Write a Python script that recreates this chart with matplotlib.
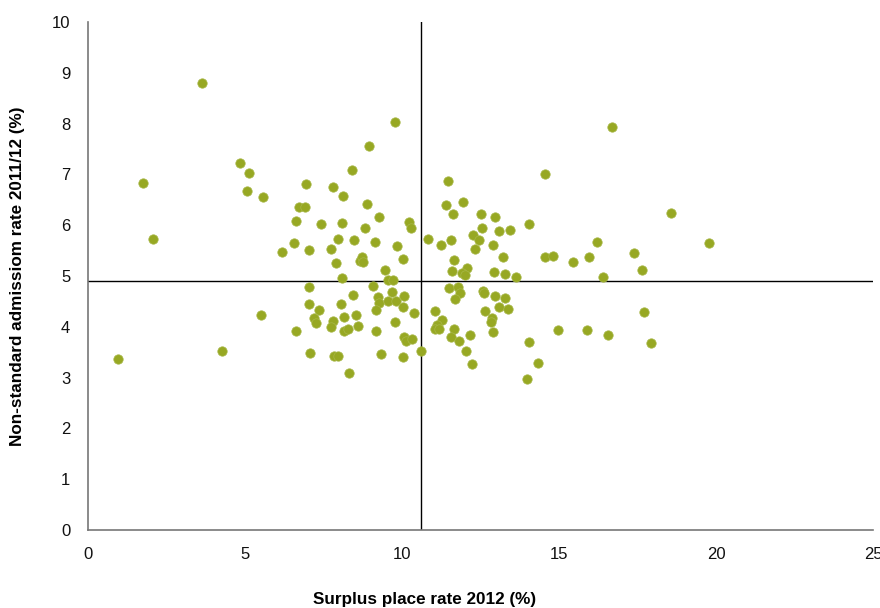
import matplotlib
matplotlib.use("Agg")
import matplotlib.pyplot as plt

# surplus place rate 2012 (%)
surplus = [
    0.96, 1.75, 2.05, 3.61, 4.25, 4.85, 5.13, 5.06, 5.57, 5.49,
    6.17, 6.55, 6.63, 6.72, 6.92, 6.94, 7.80, 8.10, 8.41, 7.40,
    8.07, 7.97, 8.48, 7.03, 7.73, 7.90, 8.65, 8.73, 8.76, 8.07,
    8.96, 9.76, 8.87, 9.26, 8.82, 9.14, 9.83, 10.22, 10.29, 10.04,
    9.45, 9.54, 9.70, 11.46, 11.41, 11.94, 11.61, 12.50, 12.96, 14.03,
    10.81, 11.25, 11.57, 12.26, 12.54, 13.08, 13.44, 12.45, 12.32, 12.88,
    13.22, 11.66, 11.58, 12.08, 11.91, 12.00, 12.92, 13.29, 13.63, 14.55,
    16.69, 18.58, 16.20, 19.78, 14.55, 14.80, 15.45, 15.95, 17.39, 17.63,
    16.41, 7.03, 8.44, 7.02, 7.35, 8.06, 7.19, 7.24, 7.80, 8.14,
    8.52, 7.74, 8.15, 8.29, 8.60, 6.62, 7.06, 7.83, 7.96, 8.31,
    9.06, 9.69, 9.24, 9.26, 9.55, 9.79, 10.05, 10.04, 9.17, 10.38,
    9.76, 9.16, 10.05, 10.11, 10.32, 10.60, 9.33, 10.04, 11.50, 11.78,
    11.83, 11.68, 12.57, 12.60, 12.97, 13.29, 13.08, 13.36, 12.63, 11.06,
    11.27, 11.10, 11.04, 11.19, 11.64, 11.56, 11.80, 12.17, 12.02, 12.21,
    12.85, 12.83, 12.90, 14.04, 13.98, 14.34, 17.72, 14.97, 15.89, 16.57,
    17.93,
]
# non-standard admission rate 2011/12 (%)
admission = [
    3.37, 6.84, 5.73, 8.80, 3.52, 7.23, 7.02, 6.67, 6.55, 4.23,
    5.47, 5.65, 6.08, 6.35, 6.36, 6.82, 6.75, 6.57, 7.08, 6.02,
    6.04, 5.72, 5.70, 5.51, 5.53, 5.25, 5.30, 5.38, 5.28, 4.96,
    7.55, 8.03, 6.42, 6.16, 5.94, 5.66, 5.59, 6.06, 5.94, 5.33,
    5.11, 4.92, 4.92, 6.88, 6.39, 6.46, 6.23, 6.23, 6.16, 6.03,
    5.73, 5.61, 5.70, 5.81, 5.94, 5.88, 5.91, 5.70, 5.53, 5.62,
    5.38, 5.32, 5.10, 5.16, 5.05, 5.02, 5.07, 5.03, 4.99, 7.01,
    7.94, 6.25, 5.66, 5.64, 5.38, 5.39, 5.28, 5.38, 5.46, 5.12,
    4.99, 4.78, 4.63, 4.44, 4.34, 4.44, 4.18, 4.07, 4.11, 4.19,
    4.24, 4.00, 3.92, 3.96, 4.01, 3.92, 3.48, 3.43, 3.42, 3.10,
    4.81, 4.68, 4.58, 4.47, 4.51, 4.51, 4.60, 4.39, 4.34, 4.28,
    4.10, 3.92, 3.80, 3.73, 3.76, 3.52, 3.46, 3.40, 4.76, 4.78,
    4.66, 4.55, 4.71, 4.66, 4.60, 4.56, 4.39, 4.36, 4.31, 4.32,
    4.13, 4.04, 3.95, 3.95, 3.95, 3.79, 3.72, 3.83, 3.52, 3.27,
    4.18, 4.10, 3.89, 3.71, 2.97, 3.28, 4.30, 3.94, 3.94, 3.83,
    3.69,
]
# average lines
mean_surplus = 10.6
mean_admission = 4.9

plt.rcParams['font.family'] = ['Liberation Sans', 'DejaVu Sans']

fig = plt.figure(figsize=(8.8, 6.08), dpi=100)
ax = fig.add_axes([0.1003, 0.1283, 0.8917, 0.8355])

ax.scatter(surplus, admission, s=46, color='#97a823', edgecolors='#a8b84a',
           linewidths=0.5, zorder=3)
ax.axvline(mean_surplus, color='black', lw=1, zorder=2)
ax.axhline(mean_admission, color='black', lw=1, zorder=2)

ax.set_xlim(0, 25)
ax.set_ylim(0, 10)
ax.set_xticks(range(0, 26, 5))
ax.set_yticks(range(0, 11))

for side in ['top', 'right']:
    ax.spines[side].set_visible(False)
for side in ['left', 'bottom']:
    ax.spines[side].set_color('#777777')
    ax.spines[side].set_linewidth(1.2)

ax.tick_params(axis='both', length=0, labelsize=12, colors='#111111')
ax.tick_params(axis='x', pad=12)
ax.tick_params(axis='y', pad=13)

ax.set_xlabel('Surplus place rate 2012 (%)', fontsize=12.3, fontweight='bold')
ax.set_ylabel('Non-standard admissiom rate 2011/12 (%)', fontsize=12.3,
              fontweight='bold')
ax.xaxis.set_label_coords(0.429, -0.122)
ax.yaxis.set_label_coords(-0.081, 0.5)

fig.savefig('out.png', dpi=100)
